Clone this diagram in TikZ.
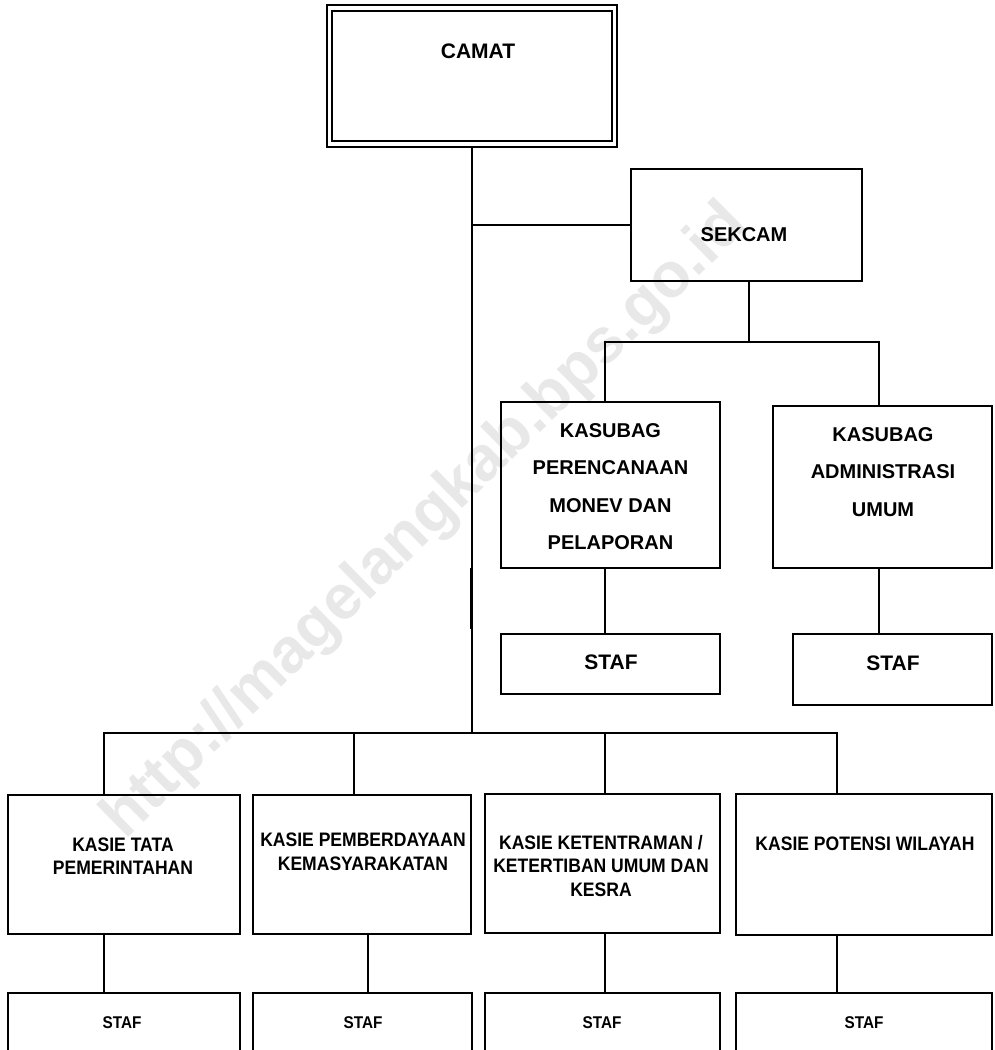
\documentclass[tikz,border=0pt]{standalone}
\usepackage{fontspec}
\setmainfont{Liberation Sans}
\newfontfamily\condfont{Liberation Sans}[FakeStretch=0.9]
\usetikzlibrary{fit}
\tikzset{
  box/.style={draw, line width=1.8pt, inner sep=0pt},
  conn/.style={line width=1.8pt},
  lbl/.style={align=center, inner sep=0pt, font=\bfseries\fontsize{20}{37.5}\selectfont},
  kasielbl/.style={align=center, inner sep=0pt, font=\condfont\bfseries\fontsize{19.5}{23.5}\selectfont},
  staflbl/.style={inner sep=0pt, font=\condfont\bfseries\fontsize{17}{20}\selectfont},
  wm/.style={inner sep=0pt, text=black!9, font=\bfseries\fontsize{63}{70}\selectfont}
}
\begin{document}
\begin{tikzpicture}[x=1pt,y=-1pt]
\useasboundingbox (0,0) rectangle (994,1050);
\clip (0,0) rectangle (994,1050);
\fill[white] (0,0) rectangle (994,1050);

% watermark
\node[wm, rotate=44.5] (water) at (426,522) {http://magelangkab.bps.go.id};

% boxes
\node[box, fit={(327,5)(617,147)}] (camat) {};
\node[box, fit={(332,11)(612,141)}] (camatin) {};
\node[box, fit={(631,169)(862,281)}] (sekcam) {};
\node[box, fit={(501,402)(720,568)}] (ksa) {};
\node[box, fit={(773,406)(992,568)}] (ksb) {};
\node[box, fit={(501,634)(720,694)}] (stafa) {};
\node[box, fit={(793,634)(992,705)}] (stafb) {};
\node[box, fit={(8,795)(240,934)}] (kaa) {};
\node[box, fit={(253,795)(471,934)}] (kab) {};
\node[box, fit={(485,794)(720,933)}] (kac) {};
\node[box, fit={(736,794)(992,935)}] (kad) {};
\node[box, fit={(8,993)(240,1080)}] (sa) {};
\node[box, fit={(253,993)(472,1080)}] (sb) {};
\node[box, fit={(485,993)(720,1080)}] (sc) {};
\node[box, fit={(736,993)(992,1080)}] (sd) {};

% labels
\node[lbl, font=\bfseries\fontsize{21}{25}\selectfont] (tcamat) at (478,51.5) {CAMAT};
\node[lbl] (tsekcam) at (744,234.5) {SEKCAM};
\node[lbl] (tksa) at (610.5,486.5) {KASUBAG\\PERENCANAAN\\MONEV DAN\\PELAPORAN};
\node[lbl] (tksb) at (883,472) {KASUBAG\\ADMINISTRASI\\UMUM};
\node[lbl, font=\bfseries\fontsize{21}{25}\selectfont] (tstafa) at (611,662) {STAF};
\node[lbl, font=\bfseries\fontsize{21}{25}\selectfont] (tstafb) at (893,663.5) {STAF};
\node[kasielbl] (tkaa) at (123,856) {KASIE TATA\\PEMERINTAHAN};
\node[kasielbl] (tkab) at (363,852) {KASIE PEMBERDAYAAN\\KEMASYARAKATAN};
\node[kasielbl] (tkac) at (601,866) {KASIE KETENTRAMAN /\\KETERTIBAN UMUM DAN\\KESRA};
\node[kasielbl] (tkad) at (865,844) {KASIE POTENSI WILAYAH};
\node[staflbl] (tsa) at (122,1023) {STAF};
\node[staflbl] (tsb) at (363,1023) {STAF};
\node[staflbl] (tsc) at (602,1023) {STAF};
\node[staflbl] (tsd) at (864,1023) {STAF};

% junction coordinates
\coordinate (trunkbot) at (472,733);
\coordinate (sekj) at (749,342);
\coordinate (ja) at (605,342);
\coordinate (jb) at (879,342);
\coordinate (b1) at (104,733);
\coordinate (b2) at (354,733);
\coordinate (b3) at (605,733);
\coordinate (b4) at (837,733);
\coordinate (b2low) at (368,733);
\coordinate (thicktop) at (471.5,568);
\coordinate (thickbot) at (471.5,629);

% connectors
\draw[conn] (camat.south) -- (trunkbot);
\draw[line width=3.2pt] (thicktop) -- (thickbot);
\draw[conn] (sekcam.west) -- (sekcam.west -| camat.south);
\draw[conn] (sekj |- sekcam.south) -- (sekj);
\draw[conn] (ja |- ksa.north) -- (ja) -- (jb) -- (jb |- ksb.north);
\draw[conn] (ja |- ksa.south) -- (ja |- stafa.north);
\draw[conn] (jb |- ksb.south) -- (jb |- stafb.north);
\draw[conn] (b1 |- kaa.north) -- (b1) -- (b4) -- (b4 |- kad.north);
\draw[conn] (b2) -- (b2 |- kab.north);
\draw[conn] (b3) -- (b3 |- kac.north);
\draw[conn] (b1 |- kaa.south) -- (b1 |- sa.north);
\draw[conn] (b2low |- kab.south) -- (b2low |- sb.north);
\draw[conn] (b3 |- kac.south) -- (b3 |- sc.north);
\draw[conn] (b4 |- kad.south) -- (b4 |- sd.north);
\end{tikzpicture}
\end{document}
